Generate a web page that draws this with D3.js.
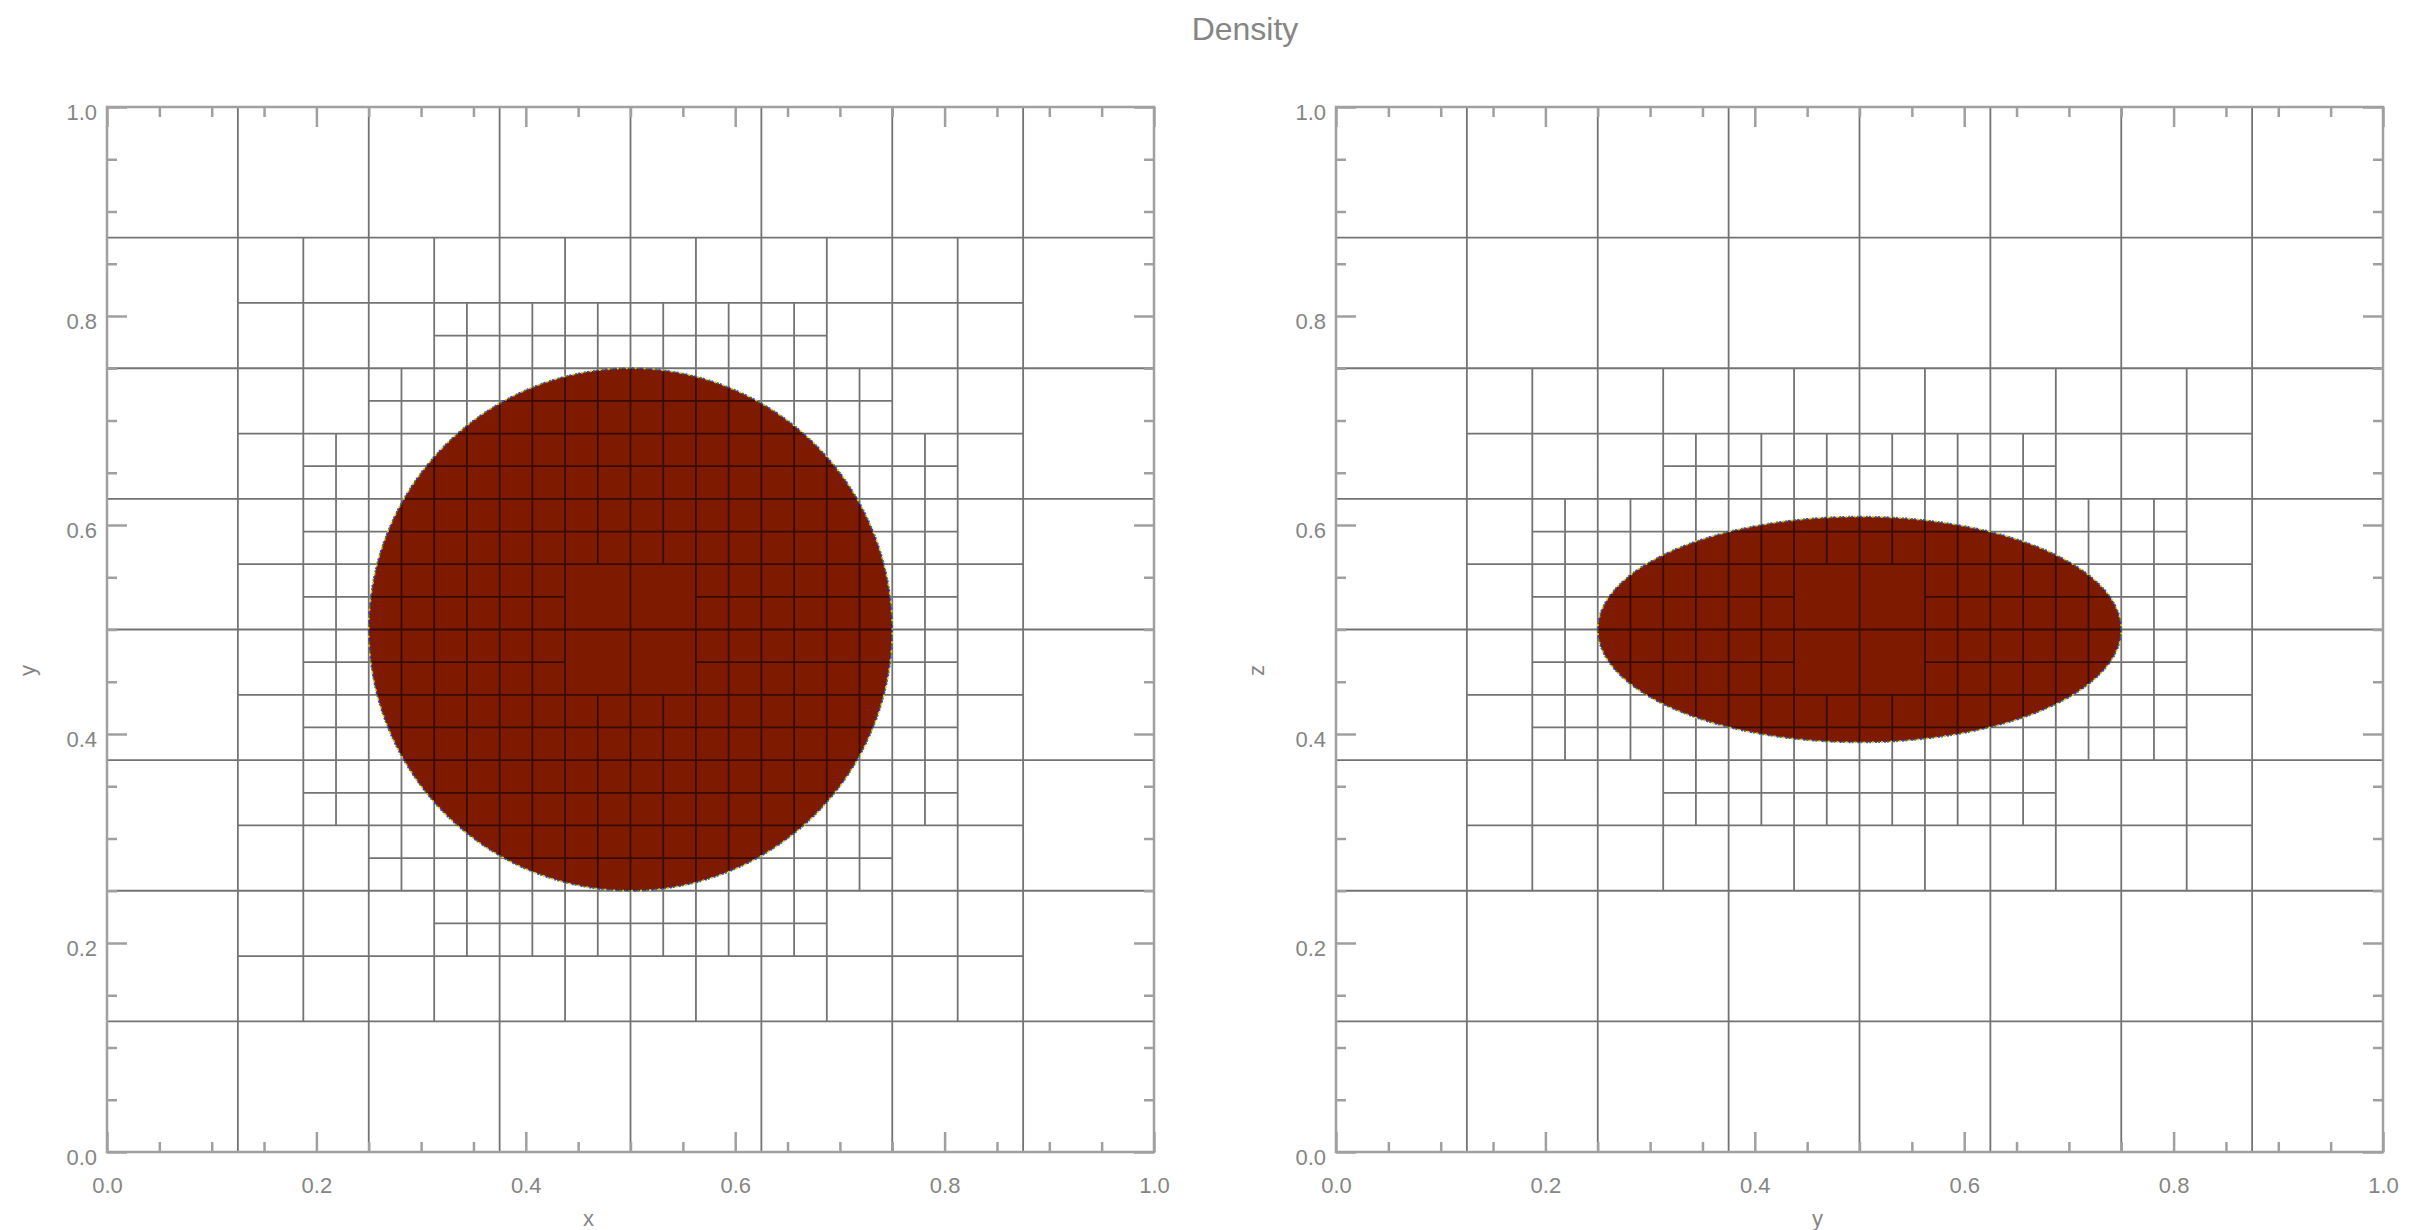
<!DOCTYPE html>
<html>
<head>
<meta charset="utf-8">
<script src="https://cdn.jsdelivr.net/npm/d3@7"></script>
<style>
    body { margin: 0; background: white; }
    text { font-family: "Liberation Sans", Arial, sans-serif; }
</style>
</head>
<body>
<div id="chart"></div>
<script>
(function() {

    const title = "Density";
    const tickValues = [0, 0.2, 0.4, 0.6, 0.8, 1.0];
    const minorTickValues = d3.range(0, 21).map(d => d / 20);
    const baseCells = 8;   // uniform level, 8 x 8 cells

    // refined cells as [row, firstCol, lastCol]; 8 = cells of 1/8, 16 = cells of 1/16
    const xyRefined8 = [[1, 1, 6], [2, 1, 6], [3, 1, 6], [4, 1, 6], [5, 1, 6], [6, 1, 6]];
    const xyRefined16 = [
        [3, 5, 10],
        [4, 4, 11],
        [5, 3, 12],
        [6, 3, 12],
        [7, 3, 6], [7, 9, 12],
        [8, 3, 6], [8, 9, 12],
        [9, 3, 12],
        [10, 3, 12],
        [11, 4, 11],
        [12, 5, 10]
    ];
    const yzRefined8 = [[2, 1, 6], [3, 1, 6], [4, 1, 6], [5, 1, 6]];
    const yzRefined16 = [
        [5, 5, 10],
        [6, 3, 12],
        [7, 3, 6], [7, 9, 12],
        [8, 3, 6], [8, 9, 12],
        [9, 3, 12],
        [10, 5, 10]
    ];

    // dense region in each slice (centre and half widths)
    const xyBlob = {cx: 0.5, cy: 0.5, rx: 0.25, ry: 0.25};
    const yzBlob = {cx: 0.5, cy: 0.5, rx: 0.25, ry: 0.108};

    const panels = [
        {xTitle: "x", yTitle: "y", refined: [[8, xyRefined8], [16, xyRefined16]], blob: xyBlob},
        {xTitle: "y", yTitle: "z", refined: [[8, yzRefined8], [16, yzRefined16]], blob: yzBlob}
    ];

    const width = 2429;
    const height = 1230;
    const panelLeft = [107, 1336];
    const panelWidth = 1047;
    const top = 107;
    const bottom = 1152;
    const axisColor = "#a0a0a0";
    const textColor = "#858585";

    const svg = d3.select("#chart").append("svg")
        .attr("width", width)
        .attr("height", height)
        .style("background", "white");

    svg.append("text")
        .attr("x", (panelLeft[0] + panelLeft[1] + panelWidth) / 2)
        .attr("y", 40)
        .attr("text-anchor", "middle")
        .attr("font-size", "32px")
        .attr("fill", textColor)
        .text(title);

    panels.forEach((p, k) => {
        const x = d3.scaleLinear().domain([0, 1]).range([panelLeft[k], panelLeft[k] + panelWidth]);
        const y = d3.scaleLinear().domain([0, 1]).range([bottom, top]);
        const g = svg.append("g");

        // dense blob
        g.append("ellipse")
            .attr("cx", x(p.blob.cx))
            .attr("cy", y(p.blob.cy))
            .attr("rx", x(p.blob.rx) - x(0))
            .attr("ry", y(0) - y(p.blob.ry))
            .attr("fill", "#7d1a00");

        // mesh: uniform lines, then a cross for every refined cell
        const path = d3.path();
        for (let i = 1; i < baseCells; i++) {
            path.moveTo(x(i / baseCells), y(0)); path.lineTo(x(i / baseCells), y(1));
            path.moveTo(x(0), y(i / baseCells)); path.lineTo(x(1), y(i / baseCells));
        }
        p.refined.forEach(([n, rows]) => {
            rows.forEach(([j, i0, i1]) => {
                for (let i = i0; i <= i1; i++) {
                    path.moveTo(x(i / n), y((j + 0.5) / n));
                    path.lineTo(x((i + 1) / n), y((j + 0.5) / n));
                    path.moveTo(x((i + 0.5) / n), y(j / n));
                    path.lineTo(x((i + 0.5) / n), y((j + 1) / n));
                }
            });
        });
        g.append("path")
            .attr("d", path.toString())
            .attr("fill", "none")
            .attr("stroke", "#000")
            .attr("stroke-opacity", 0.55)
            .attr("stroke-width", 1.8);

        // speckled edge of the blob
        [["#3b3bf0", 0], ["#2e8b2e", 3], ["#e0c020", 6]].forEach(([c, off]) => {
            g.append("ellipse")
                .attr("cx", x(p.blob.cx))
                .attr("cy", y(p.blob.cy))
                .attr("rx", x(p.blob.rx) - x(0))
                .attr("ry", y(0) - y(p.blob.ry))
                .attr("fill", "none")
                .attr("stroke", c)
                .attr("stroke-width", 1.8)
                .attr("stroke-dasharray", "2 7")
                .attr("stroke-dashoffset", off);
        });

        // frame
        g.append("rect")
            .attr("x", x(0))
            .attr("y", y(1))
            .attr("width", x(1) - x(0))
            .attr("height", y(0) - y(1))
            .attr("fill", "none")
            .attr("stroke", axisColor)
            .attr("stroke-width", 2.5);

        // ticks on all four sides, pointing inward
        const addAxis = (axis, transform, labels) => {
            const a = g.append("g")
                .attr("transform", transform)
                .call(axis);
            a.select(".domain").remove();
            a.selectAll("line").attr("stroke", axisColor).attr("stroke-width", 2.5);
            if (!labels) a.selectAll("text").remove();
            return a;
        };
        const fmt = d3.format(".1f");
        [[20, tickValues], [10, minorTickValues.filter(v => tickValues.indexOf(v) < 0)]].forEach(([len, vals], m) => {
            const first = m === 0;
            const bx = addAxis(d3.axisBottom(x).tickValues(vals).tickSize(-len).tickPadding(25).tickFormat(fmt),
                `translate(0,${y(0)})`, first);
            addAxis(d3.axisTop(x).tickValues(vals).tickSize(-len), `translate(0,${y(1)})`, false);
            const ly = addAxis(d3.axisLeft(y).tickValues(vals).tickSize(-len).tickPadding(10).tickFormat(fmt),
                `translate(${x(0)},0)`, first);
            addAxis(d3.axisRight(y).tickValues(vals).tickSize(-len), `translate(${x(1)},0)`, false);
            if (first) {
                [bx, ly].forEach(a => a.selectAll("text")
                    .attr("font-family", "Liberation Sans, Arial, sans-serif")
                    .attr("font-size", "22px")
                    .attr("fill", textColor));
                ly.selectAll("text").attr("dy", "0.55em");
            }
        });

        // axis titles
        g.append("text")
            .attr("x", (x(0) + x(1)) / 2 - 42)
            .attr("y", 1226)
            .attr("text-anchor", "middle")
            .attr("font-size", "22px")
            .attr("fill", textColor)
            .text(p.xTitle);

        g.append("text")
            .attr("transform", `translate(${x(0) - 72},${(y(0) + y(1)) / 2 + 41}) rotate(-90)`)
            .attr("text-anchor", "middle")
            .attr("font-size", "22px")
            .attr("fill", textColor)
            .text(p.yTitle);
    });

})();
</script>
</body>
</html>
